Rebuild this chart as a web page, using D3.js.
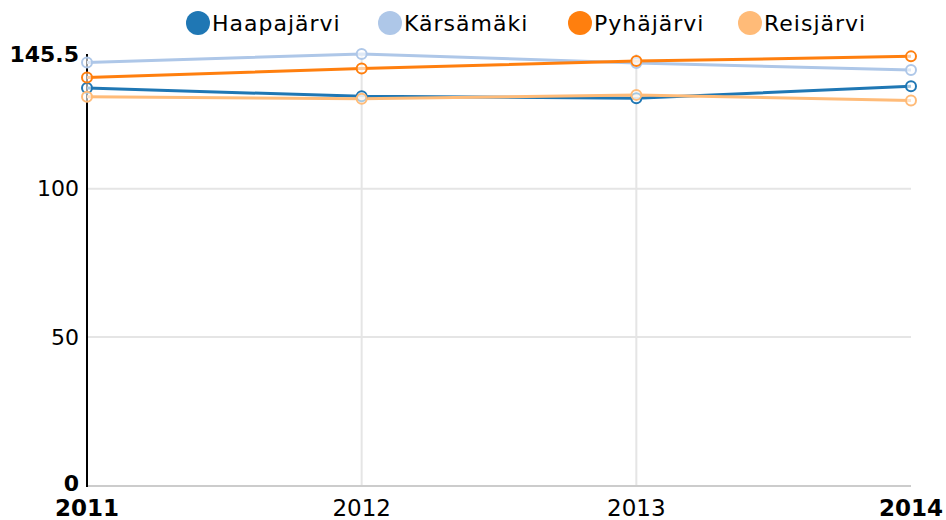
<!DOCTYPE html>
<html>
<head>
<meta charset="utf-8">
<script src="https://cdn.jsdelivr.net/npm/d3@7"></script>
<style>
  body { margin: 0; background: #fff; }
  text { font-family: "DejaVu Sans", sans-serif; }
</style>
</head>
<body>
<div id="root"></div>
<script>
const years = [2011, 2012, 2013, 2014];
const seriesNames = ["Haapajärvi", "Kärsämäki", "Pyhäjärvi", "Reisjärvi"];
const haapajarvi = [134.0, 131.2, 130.6, 134.6];
const karsamaki = [142.6, 145.5, 142.5, 140.1];
const pyhajarvi = [137.6, 140.6, 143.1, 144.7];
const reisjarvi = [131.1, 130.4, 131.7, 129.8];
const yTicks = [0, 50, 100, 145.5];
const colors = ["#1f77b4", "#aec7e8", "#ff7f0e", "#ffbb78"];

const series = [haapajarvi, karsamaki, pyhajarvi, reisjarvi]
  .map((values, i) => ({ name: seriesNames[i], values, color: colors[i] }));

const width = 946;
const height = 520;
const margin = { top: 54, right: 35, bottom: 35, left: 87 };

const svg = d3.select("#root")
  .append("svg")
    .attr("width", width)
    .attr("height", height);

const xScale = d3.scaleLinear()
  .domain(d3.extent(years))
  .range([margin.left, width - margin.right]);

const yScale = d3.scaleLinear()
  .domain([0, 145.5])
  .range([height - margin.bottom, margin.top]);

// grid
const grid = svg.append("g");
grid.selectAll("line.h")
  .data([50, 100])
  .enter()
  .append("line")
    .attr("x1", margin.left)
    .attr("x2", width - margin.right)
    .attr("y1", d => yScale(d))
    .attr("y2", d => yScale(d))
    .attr("stroke", "#e5e5e5")
    .attr("stroke-width", 2);
grid.selectAll("line.v")
  .data(years.slice(1, -1))
  .enter()
  .append("line")
    .attr("x1", d => xScale(d))
    .attr("x2", d => xScale(d))
    .attr("y1", margin.top)
    .attr("y2", yScale(0))
    .attr("stroke", "#e5e5e5")
    .attr("stroke-width", 2);

// x axis line
svg.append("line")
  .attr("x1", margin.left)
  .attr("x2", width - margin.right)
  .attr("y1", yScale(0) + 1)
  .attr("y2", yScale(0) + 1)
  .attr("stroke", "#cccccc")
  .attr("stroke-width", 2);

// y axis line
svg.append("line")
  .attr("x1", margin.left)
  .attr("x2", margin.left)
  .attr("y1", margin.top)
  .attr("y2", yScale(0) + 2)
  .attr("stroke", "#000")
  .attr("stroke-width", 2);

// y tick labels
svg.append("g")
  .selectAll("text")
  .data(yTicks)
  .enter()
  .append("text")
    .attr("x", margin.left - 8)
    .attr("y", d => yScale(d) - (d === 0 ? 2 : 0))
    .attr("dy", "0.35em")
    .attr("text-anchor", "end")
    .style("font-size", "22px")
    .style("font-weight", (d, i) => (i === 0 || i === yTicks.length - 1) ? "bold" : "normal")
    .text(d => d);

// x tick labels
svg.append("g")
  .selectAll("text")
  .data(years)
  .enter()
  .append("text")
    .attr("x", d => xScale(d))
    .attr("y", height - 4)
    .attr("text-anchor", "middle")
    .style("font-size", "23px")
    .style("font-weight", (d, i) => (i === 0 || i === years.length - 1) ? "bold" : "normal")
    .text(d => d);

// lines
const lineCreator = d3.line()
  .x((d, i) => xScale(years[i]))
  .y(d => yScale(d));

svg.append("g")
  .selectAll("path")
  .data(series)
  .enter()
  .append("path")
    .attr("d", d => lineCreator(d.values))
    .attr("fill", "none")
    .attr("stroke", d => d.color)
    .attr("stroke-width", 3);

// points
svg.append("g")
  .selectAll("g")
  .data(series)
  .enter()
  .append("g")
  .selectAll("circle")
  .data(d => d.values.map(v => ({ v, color: d.color })))
  .enter()
  .append("circle")
    .attr("cx", (d, i) => xScale(years[i]))
    .attr("cy", d => yScale(d.v))
    .attr("r", 5)
    .attr("fill", "#fff")
    .attr("fill-opacity", 0.6)
    .attr("stroke", d => d.color)
    .attr("stroke-width", 2);

// legend
const legendX = [198, 390, 580, 750];
const legend = svg.append("g")
  .selectAll("g")
  .data(series)
  .enter()
  .append("g")
    .attr("transform", (d, i) => `translate(${legendX[i]}, 23)`);
legend.append("circle")
  .attr("r", 12)
  .attr("fill", d => d.color);
legend.append("text")
  .attr("x", 14)
  .attr("dy", "0.35em")
  .style("font-size", "22px")
  .style("letter-spacing", "1px")
  .text(d => d.name);
</script>
</body>
</html>
